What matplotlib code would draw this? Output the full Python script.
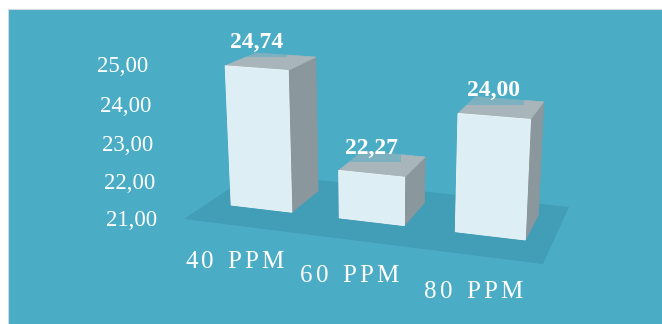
import numpy as np
import matplotlib
matplotlib.use('Agg')
import matplotlib.pyplot as plt
from matplotlib.patches import Polygon, Rectangle

categories = ['40 PPM', '60 PPM', '80 PPM']
values = [24.74, 22.27, 24.00]
y_ticks = [21, 22, 23, 24, 25]
base = 21.0

bg = '#4bacc6'
floor_c = '#429db7'
front_c = '#ddeef5'
side_c = '#8a979c'
top_c = '#a8b6bb'

# floor corners in pixels: front-left, front-right, back-right, back-left
floor_px = [(184, 219), (543, 264), (569, 207), (253, 173)]
vp = (378.0, 3605.0)      # vanishing point of the vertical edges
unit_px = 38.75           # pixels per unit at the front-left corner


def homography(dst):
    src = [(0, 0), (1, 0), (1, 1), (0, 1)]
    A, b = [], []
    for (X, Z), (x, y) in zip(src, dst):
        A.append([X, Z, 1, 0, 0, 0, -x * X, -x * Z]); b.append(x)
        A.append([0, 0, 0, X, Z, 1, -y * X, -y * Z]); b.append(y)
    h = np.linalg.solve(np.array(A, float), np.array(b, float))
    return np.append(h, 1).reshape(3, 3)


H = homography(floor_px)
k = -unit_px / (vp[1] - floor_px[0][1] + unit_px * (y_ticks[-1] - base))
vcol = k * np.array([vp[0], vp[1], 1.0])


def proj(X, Y, Z):
    v = H @ np.array([X, Z, 1.0]) + Y * vcol
    return v[0] / v[2], v[1] / v[2]


fig = plt.figure(figsize=(6.62, 3.24), dpi=100)
fig.patch.set_facecolor('white')
ax = fig.add_axes([0, 0, 1, 1])
ax.set_xlim(0, 662)
ax.set_ylim(324, 0)
ax.axis('off')

ax.add_patch(Rectangle((8, 9), 660, 320, facecolor=bg, edgecolor='#cfd8db', lw=0.8))

# floor
ax.add_patch(Polygon([proj(X, 0, Z) for X, Z in [(0, 0), (1, 0), (1, 1), (0, 1)]],
                     closed=True, facecolor=floor_c, edgecolor='none'))

# tick labels along the left edge of the floor
for t in y_ticks:
    x, y = proj(0, t - base, 0)
    ax.text(x - 26.5, y + 7.5, f'{t:.2f}'.replace('.', ','), ha='right', va='baseline',
            color='white', fontsize=16.5, family='Liberation Serif')

bar_w = 0.19
z_front, z_back = 0.33, 0.78
renderer = fig.canvas.get_renderer()


def spaced_text(xc, yb, s, gap, **kw):
    widths = []
    for ch in s:
        if ch == ' ':
            widths.append(8.0)
            continue
        t = ax.text(0, 0, ch, **kw)
        widths.append(t.get_window_extent(renderer).width)
        t.remove()
    total = sum(widths) + gap * (len(s) - 1)
    x = xc - total / 2
    for ch, w in zip(s, widths):
        if ch != ' ':
            ax.text(x, yb, ch, ha='left', va='baseline', **kw)
        x += w + gap


for i, (cat, val) in enumerate(zip(categories, values)):
    xc = (i + 0.5) / 3
    x0, x1 = xc - bar_w / 2, xc + bar_w / 2
    h = val - base
    side = [proj(x1, 0, z_front), proj(x1, 0, z_back), proj(x1, h, z_back), proj(x1, h, z_front)]
    top = [proj(x0, h, z_front), proj(x1, h, z_front), proj(x1, h, z_back), proj(x0, h, z_back)]
    front = [proj(x0, 0, z_front), proj(x1, 0, z_front), proj(x1, h, z_front), proj(x0, h, z_front)]
    ax.add_patch(Polygon(side, closed=True, facecolor=side_c, edgecolor=side_c, lw=0.5))
    ax.add_patch(Polygon(top, closed=True, facecolor=top_c, edgecolor=top_c, lw=0.5))
    ax.add_patch(Polygon(front, closed=True, facecolor=front_c, edgecolor='#eef7fa', lw=0.6))

    lx, ly = proj(xc, h, z_front)
    ax.text(lx, ly - 20, f'{val:.2f}'.replace('.', ','), ha='center', va='baseline',
            color='white', fontsize=17, fontweight='bold', family='Liberation Serif',
            bbox=dict(boxstyle='square,pad=0.15', fc=bg, ec='none', alpha=0.45))

    cx, cy = proj(xc, 0, 0)
    spaced_text(cx - 4, cy + 42, cat, 3.0, color='white', fontsize=18,
                family='Liberation Serif')

fig.savefig('out.png', dpi=100, facecolor='white')
